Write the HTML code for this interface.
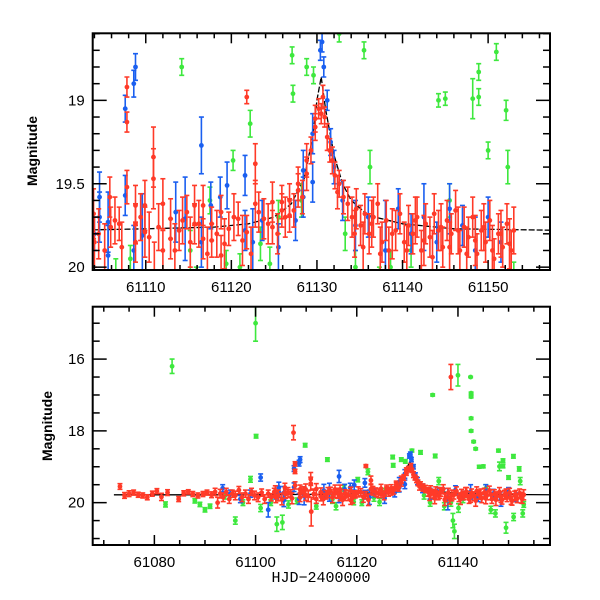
<!DOCTYPE html>
<html><head><meta charset="utf-8"><style>
body{margin:0;background:#fff}
svg{display:block}
text{font-family:"Liberation Sans",Helvetica,sans-serif;fill:#000}
</style></head><body>
<svg id="chart" width="600" height="600" viewBox="0 0 600 600" xmlns="http://www.w3.org/2000/svg">
<defs>
<clipPath id="clipTop"><rect x="92.7" y="33.3" width="457.3" height="236.7"/></clipPath>
<clipPath id="clipBot"><rect x="92.7" y="306.7" width="457.3" height="238.3"/></clipPath>
</defs>
<g id="top"></g>
<g id="bot"></g>
<text transform="translate(37,151) rotate(-90)" text-anchor="middle" font-size="14" font-weight="bold">Magnitude</text>
<text transform="translate(52,426) rotate(-90)" text-anchor="middle" font-size="14" font-weight="bold">Magnitude</text>
<text x="321" y="582" text-anchor="middle" font-size="15" style="font-family:'Liberation Mono',monospace">HJD−2400000</text>
</svg>
<script>
const redTime=[61073.2,61074.1,61075.0,61075.9,61076.8,61077.7,61078.6,61079.6,61080.5,61081.4,61082.6,61084.8,61085.8,61086.7,61087.6,61088.6,61089.6,61090.4,61091.3,61092.0,61092.5,61093,61093.6,61094.2,61094.8,61095.4,61096,61096.7,61097.3,61098,61098.6,61099.2,61099.8,61100.5,61101.2,61101.8,61102.5,61103.1,61103.7,
61103.9,61104.0,61105.8,61105.9,61106.9,61107.8,61107.8,61107.8,61108.8,61108.8,61108.8,61109.9,61109.9,61110.9,61110.9,61112,61112,61112.9,61112.9,61113.9,61114.8,61115.7,61115.7,61116.7,61116.7,61117.7,61117.7,61118.8,61118.8,61119.7,61120.8,61121.8,61121.8,61122.8,61122.8,61123.2,61123.8,61124.8,61124.8,61125.9,61125.9,61126.8,61126.8,61127.8,61127.8,61128.8,61128.8,61129.8,61129.8,
61130.2,61130.5,61130.9,61131.5,61132.1,61132.6,61133.1,61133.6,61134.1,61134.6,61135.1,61135.6,61136.1,61136.6,61137.1,61137.6,61138.1,61138.4,61139.2,61139.7,61140.2,61140.7,61141.2,61141.7,61142.2,61142.7,61143.2,61143.7,61144.2,61144.7,61145.2,61145.7,61146.2,61146.7,61147.2,61147.7,61148.2,61148.7,61149.2,61149.7,61150.2,61150.7,61151.2,61151.7,61152.2,61152.7,
61138.6,61107.5,61111.0,
61104.5,61105.2,61106.4,61107.2,61109.4,61110.4,61111.5,61113.4,61114.3,61115.2,61116.2,61117.2,61118.3,61119.2,61120.3,61121.3,61122.3,61124.3,61125.4,61126.3,61127.3,61128.3,61129.3,61130.7,61131.2,61131.8,61132.4,61134.4,61135.4,61136.4,61137.4,61138.8,61140.5,61141.5,61142.5,61143.5,61144.5,61145.5,61146.5,61147.5,61148.5,61149.5,61150.5,61151.5,61152.5,61153.0];
const redMag=[19.55,19.8,19.75,19.72,19.78,19.8,19.85,19.75,19.68,19.84,19.72,19.9,19.74,19.7,19.76,19.8,19.76,19.72,19.78,19.7,20.0,19.75,19.85,19.7,19.9,19.75,19.8,19.65,19.85,19.75,19.9,19.7,19.8,19.85,19.72,19.9,19.75,19.85,19.7,
19.68,19.85,19.58,19.76,19.74,18.92,19.13,19.52,19.63,19.74,19.85,19.63,19.79,19.34,19.47,19.62,19.9,19.71,19.83,19.78,19.67,19.63,19.74,19.63,19.83,19.74,19.84,19.67,19.93,19.77,19.71,18.98,19.79,19.38,19.62,19.67,19.71,19.61,19.76,19.61,19.66,19.6,19.69,19.54,19.5,19.44,19.36,19.16,19.11,
19.05,19.08,19.1,19.3,19.45,19.5,19.58,19.62,19.7,19.65,19.75,19.68,19.8,19.7,19.62,19.85,19.72,19.9,19.78,19.68,19.85,19.75,19.8,19.7,19.9,19.74,19.82,19.68,19.78,19.88,19.72,19.8,19.66,19.9,19.76,19.82,19.7,19.92,19.78,19.85,19.72,19.95,19.8,19.88,19.74,19.9,
16.5,18.05,20.25,
19.8,19.9,19.72,19.88,19.7,19.82,19.76,19.9,19.72,19.85,19.74,19.92,19.8,19.86,19.7,19.84,19.92,19.74,19.8,19.7,19.66,19.58,19.3,18.98,19.22,19.36,19.55,19.8,19.88,19.74,19.92,19.8,19.9,19.72,19.84,19.94,19.76,19.88,19.78,19.92,19.84,19.76,19.9,19.8,19.86,19.78];
const redErr=[.08,.08,.08,.07,.07,.07,.07,.07,.07,.1,.08,.07,.07,.06,.07,.07,.07,.07,.08,.1,.15,.12,.12,.1,.12,.1,.12,.1,.12,.1,.12,.1,.12,.12,.1,.12,.1,.1,.1,
.15,.15,.12,.12,.1,.06,.06,.1,.12,.12,.12,.15,.15,.18,.18,.15,.12,.12,.12,.12,.1,.12,.12,.12,.12,.1,.1,.1,.12,.1,.1,.04,.1,.12,.14,.12,.12,.12,.1,.1,.1,.1,.1,.1,.1,.1,.1,.08,.08,
.06,.06,.06,.07,.08,.08,.1,.1,.12,.12,.12,.12,.12,.12,.12,.12,.12,.14,.12,.12,.12,.12,.12,.12,.12,.12,.12,.12,.12,.12,.12,.12,.12,.12,.12,.12,.12,.12,.12,.12,.12,.12,.12,.12,.12,.12,
.35,.2,.4,
.15,.16,.14,.15,.14,.15,.14,.16,.14,.15,.14,.16,.14,.15,.14,.15,.16,.12,.12,.12,.1,.1,.08,.07,.08,.08,.1,.14,.15,.14,.16,.15,.15,.14,.15,.16,.14,.15,.14,.16,.15,.14,.15,.14,.15,.14];
const blueTime=[61093.5,61095,61097,61099,61101,61102.5,61104,61104.6,61104.6,61105.6,61105.6,61107.6,61107.6,61108.6,61108.8,61108.6,61109.6,61113.5,61114.6,61116.5,61116.5,61117.6,61118.7,61119.5,61121.6,61121.6,61122.5,61123.6,61125.5,61127.5,61128.4,61128.4,61129.5,61129.5,61130.4,61130.6,61130.8,61131.2,61131.6,61132,61133,61134.5,61136,61138,61139.5,61141,61142.5,61144,61145.5,61147,61148.5,61150,61151.5];
const blueMag=[19.6,19.75,19.9,19.75,19.3,20.2,19.8,19.58,19.7,19.73,19.93,19.05,19.57,18.9,18.8,19.9,19.81,19.67,19.71,19.27,19.85,19.63,19.58,19.51,19.45,19.78,19.85,19.72,19.88,19.72,19.42,19.58,19.49,19.2,18.7,18.65,18.8,19.0,19.25,19.4,19.6,19.75,19.7,19.9,19.65,19.8,19.7,19.85,19.65,19.75,19.9,19.7,19.85];
const blueErr=[.1,.1,.1,.1,.1,.2,.1,.15,.15,.18,.18,.08,.12,.08,.08,.15,.25,.18,.25,.17,.15,.14,.12,.14,.12,.12,.2,.12,.14,.12,.12,.12,.12,.12,.06,.06,.06,.06,.08,.1,.12,.15,.12,.3,.12,.12,.2,.12,.15,.12,.2,.12,.12];
const greenTime=[61082.2,61083.5,61088,61089,61090,61091,61094,61096,61097.5,61099,61100,61100.1,61101,61103,61104.2,61105.3,61106.5,61108.2,61109.8,61112,61114.2,61115.2,61115.9,61117.5,61119.4,61120.2,61121,61122.2,61123.4,61124.5,61125.5,61127.1,61127.2,61128.2,61128.8,61129.6,61130.9,61132.6,61133.3,61134.5,61135.0,61135.5,61136.2,61137.3,61138.6,61139.0,61139.3,61140.0,61140.1,61141,61142.5,61142.6,61142.6,61142.6,61142.6,61143.5,61143.1,61144.2,61145.0,61145.5,61146.5,61147.4,61148.0,61148.2,61148.9,61148.9,61149.5,61150.0,61150.96,61151,61152.1,61152.3,61152.8,61153];
const greenMag=[20.05,16.2,19.95,20.05,20.2,20.1,19.8,20.5,20.0,19.35,15.0,18.15,20.15,20.0,20.6,20.55,20.05,19.95,18.4,20.1,18.8,19.9,20.1,19.6,19.98,19.36,20.0,19.14,19.86,19.98,19.7,18.73,18.96,19.6,18.8,18.85,18.55,18.6,19.8,20.0,17.0,18.7,19.4,20.1,20.0,20.5,20.8,16.45,20.15,19.9,16.5,16.95,17.05,17.65,18.0,18.5,18.3,19.0,18.99,19.6,20.2,20.3,18.55,18.99,18.83,18.98,20.7,19.3,18.71,20.4,19.06,19.4,20.3,20.05];
const greenErr=[.07,.2,.06,.06,.06,.06,.1,.1,.08,.08,.5,.05,.1,.08,.2,.2,.1,.08,.05,.08,.05,.12,.1,.08,.08,.06,.08,.08,.1,.1,.1,.05,.05,.1,.05,.05,.04,.05,.1,.1,.03,.05,.1,.1,.1,.2,.2,.3,.12,.1,.02,.03,.03,.03,.03,.03,.03,.04,.04,.1,.1,.1,.04,.12,.05,.05,.15,.05,.05,.1,.06,.1,.1,.08];
const modelTime=[61072,61090,61100,61110,61118,61122,61125,61127,61128.5,61129.5,61130,61130.5,61131,61132,61133,61134,61136,61140,61146,61160];
const modelMag=[19.78,19.78,19.78,19.77,19.76,19.74,19.7,19.62,19.47,19.22,19.0,18.86,19.05,19.33,19.5,19.6,19.69,19.74,19.77,19.78];
const topXTicks=[61110,61120,61130,61140,61150];
const topYTicks=[19,19.5,20];
const botXTicks=[61080,61100,61120,61140];
const botYTicks=[16,18,20];

const NS="http://www.w3.org/2000/svg";
function mk(tag,attrs,parent){const e=document.createElementNS(NS,tag);for(const k in attrs)e.setAttribute(k,attrs[k]);parent.appendChild(e);return e;}
const panels=[
 {g:document.getElementById('top'),clip:'clipTop',x0:92.7,x1:550,y0:33.3,y1:270,t0:61103.8,t1:61157.23,m0:18.598,m1:20.017,minorX:2,minorY:0.1,xt:topXTicks,yt:topYTicks,name:'top'},
 {g:document.getElementById('bot'),clip:'clipBot',x0:92.7,x1:550,y0:306.7,y1:545,t0:61067.81,t1:61158.19,m0:14.54,m1:21.18,minorX:5,minorY:0.5,xt:botXTicks,yt:botYTicks,name:'bottom'}
];
const series=[
 {name:'green',color:'#3ee83e',t:greenTime,m:greenMag,e:greenErr},
 {name:'blue',color:'#1a5ff0',t:blueTime,m:blueMag,e:blueErr},
 {name:'red',color:'#ff3a28',t:redTime,m:redMag,e:redErr}
];
panels.forEach(p=>{
 const X=t=>p.x0+(t-p.t0)/(p.t1-p.t0)*(p.x1-p.x0);
 const Y=m=>p.y0+(m-p.m0)/(p.m1-p.m0)*(p.y1-p.y0);
 const data=mk('g',{'clip-path':'url(#'+p.clip+')'},p.g);
 
 
 let d='';modelTime.forEach((t,i)=>{d+=(i?'L':'M')+X(t).toFixed(1)+','+Y(modelMag[i]).toFixed(1);});
 const ml=mk('path',{d:d,fill:'none',stroke:'#000','stroke-width':1.3,'stroke-dasharray':p.name==='top'?'6,2':'none'},data);
 
 
 series.forEach(s=>{
  const sg=mk('g',{fill:s.color,stroke:s.color,'stroke-width':1.6},data);
  
  
  s.t.forEach((t,i)=>{
   const x=X(t),y=Y(s.m[i]),ya=Y(s.m[i]-s.e[i]),yb=Y(s.m[i]+s.e[i]);
   const pg=mk('g',{},sg);
   
   
   mk('line',{x1:x,x2:x,y1:ya,y2:yb},pg);
   mk('line',{x1:x-2.5,x2:x+2.5,y1:ya,y2:ya},pg);
   mk('line',{x1:x-2.5,x2:x+2.5,y1:yb,y2:yb},pg);
   mk('circle',{cx:x,cy:y,r:2.4,stroke:'none'},pg);
  });
 });
 const fr=mk('rect',{x:p.x0,y:p.y0,width:p.x1-p.x0,height:p.y1-p.y0,fill:'none',stroke:'#000','stroke-width':2},p.g);
 
 
 const ax=mk('g',{stroke:'#000','stroke-width':1.5},p.g);
 
 
 for(let t=Math.ceil(p.t0/p.minorX)*p.minorX;t<=p.t1;t+=p.minorX){
  const major=p.xt.some(v=>Math.abs(v-t)<1e-6);const L=major?10:5;const x=X(t);
  mk('line',{x1:x,x2:x,y1:p.y1,y2:p.y1-L},ax);mk('line',{x1:x,x2:x,y1:p.y0,y2:p.y0+L},ax);
 }
 const ms=Math.round(p.minorY*10);
 for(let k=Math.ceil(p.m0*10/ms)*ms;k<=p.m1*10+1e-6;k+=ms){
  const m=k/10;const major=p.yt.some(v=>Math.abs(v-m)<1e-6);const L=major?14:7;const y=Y(m);
  mk('line',{x1:p.x0,x2:p.x0+L,y1:y,y2:y},ax);mk('line',{x1:p.x1,x2:p.x1-L,y1:y,y2:y},ax);
 }
 p.xt.forEach(t=>{const tx=mk('text',{x:X(t),y:p.y1+22,'text-anchor':'middle','font-size':15},p.g);tx.textContent=t;
  
  });
 p.yt.forEach(m=>{const tx=mk('text',{x:p.x0-8,y:Y(m)+5,'text-anchor':'end','font-size':15},p.g);tx.textContent=String(m);
  
  });
});
</script>
</body></html>
